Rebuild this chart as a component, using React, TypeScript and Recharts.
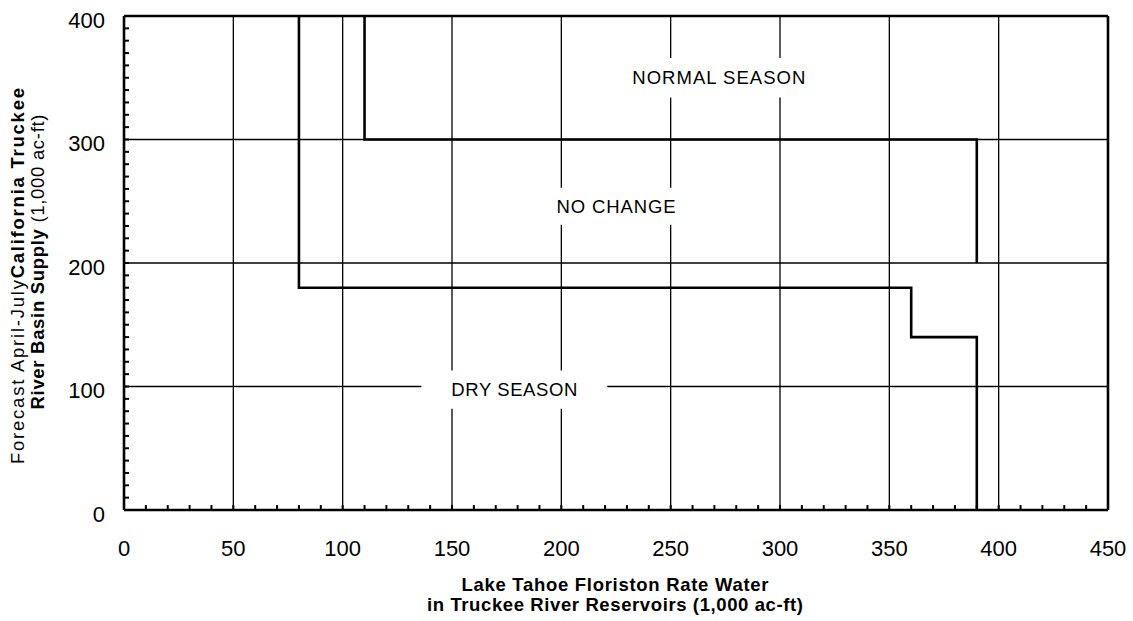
import React from 'react';
import { LineChart, Line, XAxis, YAxis, CartesianGrid, ReferenceLine, ReferenceArea } from 'recharts';

const xTicks = [0, 50, 100, 150, 200, 250, 300, 350, 400, 450];
const yTicks = [0, 100, 200, 300, 400];
const xMinorTicks = Array.from({ length: 46 }, (_, i) => i * 10);
const yMinorTicks = Array.from({ length: 41 }, (_, i) => i * 10);

// boundary between NORMAL SEASON and NO CHANGE
const upperX = [110, 110, 390, 390];
const upperY = [400, 300, 300, 200];

// boundary between NO CHANGE and DRY SEASON
const lowerX = [80, 80, 360, 360, 390, 390];
const lowerY = [400, 180, 180, 140, 140, 0];

const zoneNames = ['NORMAL SEASON', 'NO CHANGE', 'DRY SEASON'];

const upperLine = upperX.map((x, i) => ({ x, y: upperY[i] }));
const lowerLine = lowerX.map((x, i) => ({ x, y: lowerY[i] }));

// white boxes behind the zone names, in axis units
const zoneBoxes = [
  { x1: 218, x2: 326, y1: 334, y2: 366, len: 173 },
  { x1: 184, x2: 266, y1: 231, y2: 261, len: 119 },
  { x1: 136, x2: 221, y1: 82, y2: 113, len: 126 },
];

// length of the inward x ticks, in y units (about 5px)
const xTickLen = 4;

const font = 'Arial, "Liberation Sans", sans-serif';

const XTitle = () => (
  <g fontFamily={font} fontWeight="bold" fontSize={18.5} fill="#000">
    <text x={615} y={591} textAnchor="middle" textLength={307} lengthAdjust="spacing">
      Lake Tahoe Floriston Rate Water
    </text>
    <text x={615} y={611} textAnchor="middle" textLength={376} lengthAdjust="spacing">
      in Truckee River Reservoirs (1,000 ac-ft)
    </text>
  </g>
);

const YTitle = () => (
  <g fontFamily={font} fontSize={18.5} fill="#000">
    <text x={24} y={276} textAnchor="middle" transform="rotate(-90, 24, 276)" textLength={376} lengthAdjust="spacing">
      <tspan>Forecast April-July</tspan>
      <tspan fontWeight="bold">California Truckee</tspan>
    </text>
    <text x={44} y={262} textAnchor="middle" transform="rotate(-90, 44, 262)" textLength={295} lengthAdjust="spacing">
      <tspan fontWeight="bold">River Basin Supply</tspan>
      <tspan> (1,000 ac-ft)</tspan>
    </text>
  </g>
);

const YTick = (p: any) => (
  <text x={p.x} y={p.y + 4} textAnchor="end" dominantBaseline="central" fontSize={22} fill="#000" fontFamily={font}>
    {p.payload.value}
  </text>
);

const NoLabel = () => <g />;

export default function App() {
  return (
    <div style={{ position: 'absolute', left: 0, top: 0, background: '#fff', fontFamily: font }}>
      <LineChart width={1133} height={621} margin={{ top: 16, right: 25, bottom: 0, left: 0 }}>
        <CartesianGrid stroke="#000" strokeWidth={1.3} />
        <XAxis
          dataKey="x"
          type="number"
          domain={[0, 450]}
          ticks={xTicks}
          interval={0}
          height={111}
          tickLine={false}
          axisLine={false}
          tickSize={0}
          tickMargin={30}
          tick={{ fill: '#000', fontSize: 22 }}
          label={{ content: () => <XTitle /> }}
        />
        <YAxis
          type="number"
          domain={[0, 400]}
          ticks={yTicks}
          interval={0}
          width={124}
          tickLine={false}
          axisLine={false}
          tickSize={0}
          tickMargin={19}
          tick={YTick}
          label={{ content: () => <YTitle /> }}
        />
        <YAxis
          yAxisId="minor"
          type="number"
          domain={[0, 400]}
          allowDataOverflow
          ticks={yMinorTicks}
          interval={0}
          mirror
          width={5}
          tick={NoLabel}
          axisLine={false}
          tickSize={5}
          tickLine={{ stroke: '#000', strokeWidth: 2 }}
        />
        {zoneBoxes.map((b, i) => (
          <ReferenceArea
            key={zoneNames[i]}
            x1={b.x1}
            x2={b.x2}
            y1={b.y1}
            y2={b.y2}
            fill="#fff"
            fillOpacity={1}
            stroke="none"
            label={{
              content: ({ viewBox }: any) => (
                <text
                  x={viewBox.x + viewBox.width / 2}
                  y={viewBox.y + viewBox.height / 2}
                  textAnchor="middle"
                  dominantBaseline="central"
                  fontSize={18.5}
                  fill="#000"
                  fontFamily={font}
                  textLength={b.len}
                  lengthAdjust="spacing"
                >
                  {zoneNames[i]}
                </text>
              ),
            }}
          />
        ))}
        {xMinorTicks.map((v) => (
          <ReferenceLine
            key={`xt${v}`}
            segment={[{ x: v, y: 0 }, { x: v, y: xTickLen }]}
            stroke="#000"
            strokeWidth={2}
          />
        ))}
        <Line data={upperLine} dataKey="y" type="linear" stroke="#000" strokeWidth={2.6} dot={false} isAnimationActive={false} />
        <Line data={lowerLine} dataKey="y" type="linear" stroke="#000" strokeWidth={2.6} dot={false} isAnimationActive={false} />
        <ReferenceLine y={0} stroke="#000" strokeWidth={2.6} />
        <ReferenceLine y={400} stroke="#000" strokeWidth={2.6} />
        <ReferenceLine x={0} stroke="#000" strokeWidth={2.6} />
        <ReferenceLine x={450} stroke="#000" strokeWidth={2.6} />
      </LineChart>
    </div>
  );
}
